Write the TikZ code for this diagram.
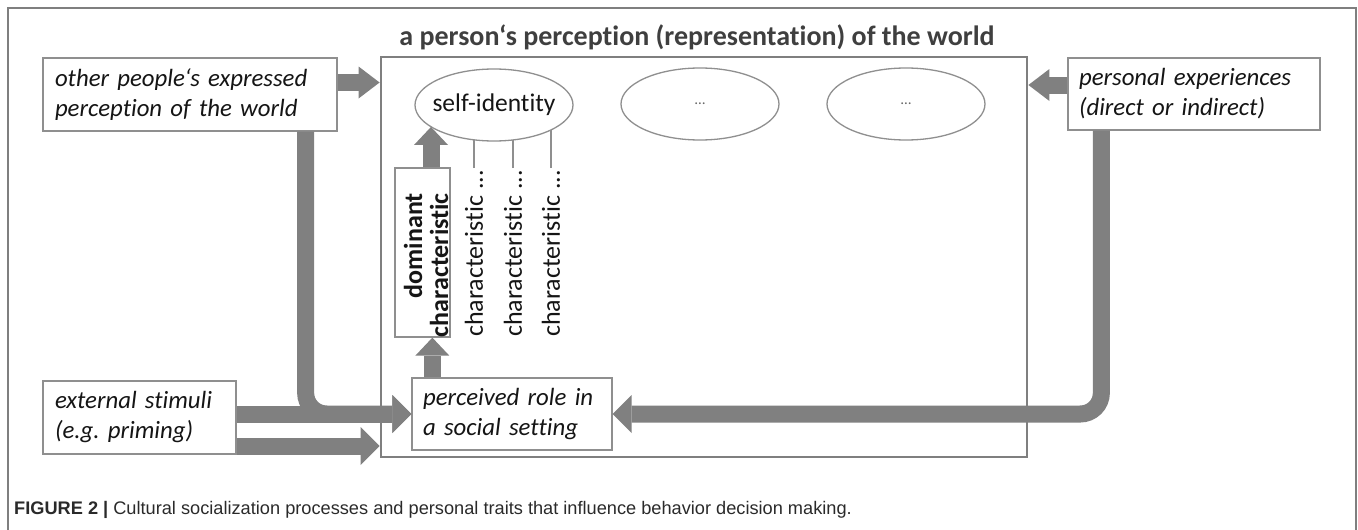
\documentclass[tikz,border=0pt]{standalone}
\usepackage{fontspec}
\setmainfont{Carlito}[Ligatures={NoCommon}]
\newfontfamily\capfont{Liberation Sans}
\usetikzlibrary{arrows.meta,calc,shapes.geometric}
\pgfdeclarelayer{bg}
\pgfsetlayers{bg,main}
\definecolor{arr}{HTML}{808080}
\definecolor{bord}{HTML}{8F8F8F}
\definecolor{wframe}{HTML}{7F7F7F}
\definecolor{txt}{HTML}{151515}
\definecolor{ttl}{HTML}{3F3F3F}
\definecolor{capc}{HTML}{2A2A2A}
\frenchspacing
\begin{document}
\begin{tikzpicture}[x=1pt,y=-1pt,
  box/.style={draw=bord, line width=1.3pt, fill=white, rectangle, inner xsep=12pt, inner ysep=0pt,
    align=left, font=\fontsize{24.8}{30}\selectfont\itshape, text=txt},
  bigarr/.style={draw=arr, line width=17pt, rounded corners=21pt,
    -{Triangle[width=38pt,length=19pt,line width=0pt]}},
  toparr/.style={draw=arr, line width=17pt,
    -{Triangle[width=32pt,length=21pt,line width=0pt]}},
  midarr/.style={draw=arr, line width=17pt,
    -{Triangle[width=34pt,length=18pt,line width=0pt]}},
  oval/.style={ellipse, draw=bord, line width=1.3pt, fill=white, minimum width=158pt, minimum height=72pt, inner sep=0pt, text=txt},
  rottext/.style={rotate=90, anchor=east, inner sep=0pt, text=txt},
  thinline/.style={draw=bord, line width=1.3pt}
]
\useasboundingbox (0,0) rectangle (1358,530);
% outer frame
\draw[draw=wframe, line width=1.8pt] (8,530) -- (8,8) -- (1356,8) -- (1356,530);
% main world box and title
\node[draw=wframe, line width=2.8pt, minimum width=646pt, minimum height=400pt, inner sep=0pt] (world) at (704,257) {};
\node[anchor=base, inner sep=0pt, text=ttl, font=\fontsize{28}{32}\selectfont\bfseries] (title) at (697,45) {a person‘s perception (representation) of the world};
% outside boxes
\node[box, minimum width=294pt, minimum height=73pt, text width=270pt] (other) at (190,94.5) {other people‘s expressed\\perception of the world};
\node[box, inner xsep=11pt, minimum width=252pt, minimum height=72pt, text width=230pt] (exp) at (1194,94) {personal experiences\\(direct or indirect)};
\node[box, minimum width=193pt, minimum height=73pt, text width=169pt] (ext) at (139.5,417.5) {external stimuli\\(e.g. priming)};
\node[box, inner xsep=11pt, minimum width=200pt, minimum height=72pt, text width=178pt] (role) at (512,414) {perceived role in\\a social setting};
% ellipses
\node[oval, font=\fontsize{25.5}{30}\selectfont] (self) at (494,105) {\makebox[0pt]{\raisebox{-4pt}{self-identity}}};
\node[oval, font=\fontsize{15}{18}\selectfont, text=black!60] (e2) at (700,104) {\makebox[0pt]{…}};
\node[oval, font=\fontsize{15}{18}\selectfont, text=black!60] (e3) at (906,104) {\makebox[0pt]{…}};
% dominant characteristic
\node[draw=bord, line width=1.3pt, minimum width=55pt, minimum height=169pt, inner sep=0pt] (dom) at (422.5,252.5) {};
\node[rottext, align=right, font=\fontsize{26}{26}\selectfont\bfseries] (domt) at (426,193) {dominant\\characteristic};
% other characteristics
\node[rottext, font=\fontsize{26}{30}\selectfont] (c1) at (474,170) {characteristic ...};
\node[rottext, font=\fontsize{26}{30}\selectfont] (c2) at (513,170) {characteristic ...};
\node[rottext, font=\fontsize{26}{30}\selectfont] (c3) at (551,170) {characteristic ...};
\begin{pgfonlayer}{bg}
\draw[thinline] ([yshift=2pt]c1.east) -- (c1.east |- self.center);
\draw[thinline] ([yshift=2pt]c2.east) -- (c2.east |- self.center);
\draw[thinline] ([yshift=2pt]c3.east) -- (c3.east |- self.center);
\end{pgfonlayer}
% connector coordinates
\coordinate (o1) at ([yshift=12pt]other.east);
\coordinate (e1) at ([yshift=9pt]exp.west);
\coordinate (o2) at ([xshift=-32pt]other.south east);
\coordinate (e2s) at ([xshift=34pt]exp.south west);
\coordinate (x2) at ([yshift=-28.5pt]ext.east);
\coordinate (r1) at ([xshift=21pt]role.north west);
\coordinate (d1) at ([xshift=8.5pt]dom.north);
% arrows
\draw[toparr] (o1) -- (o1 -| world.west);
\draw[toparr] (e1) -- (e1 -| world.east);
\draw[bigarr] (o2) |- (role.west);
\draw[bigarr] (ext.east |- role.west) -- (role.west);
\draw[bigarr] (x2) -- (x2 -| world.west);
\draw[bigarr] (e2s) |- (role.east);
\draw[midarr] (r1) -- (r1 |- dom.south);
\draw[midarr] (d1) -- (d1 |- self.199);
% caption
\node[anchor=base west, inner sep=0pt, text=capc, font=\capfont\fontsize{18.2}{21}\selectfont] (cap) at (14,514) {\textbf{FIGURE 2 |} Cultural socialization processes and personal traits that influence behavior decision making.};
\end{tikzpicture}
\end{document}
